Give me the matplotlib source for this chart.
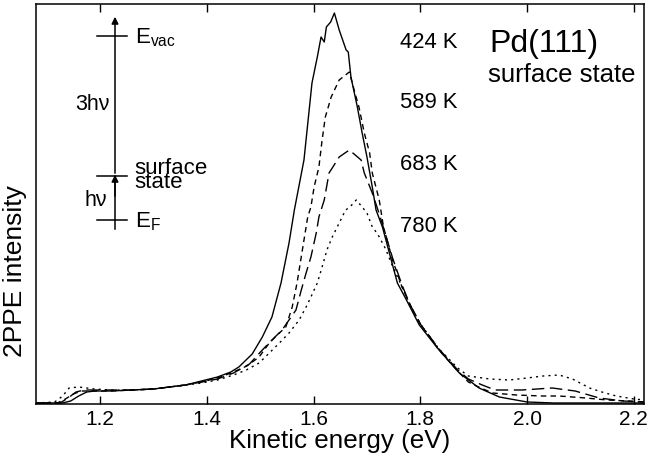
import matplotlib
matplotlib.use('Agg')
import matplotlib.pyplot as plt

plt.rcParams['font.family'] = ['Liberation Sans', 'DejaVu Sans']
plt.rcParams['mathtext.fontset'] = 'custom'
plt.rcParams['mathtext.rm'] = 'Liberation Sans'
plt.rcParams['mathtext.it'] = 'Liberation Sans'

# Spektren (Energie in eV, Intensitaet in willkuerlichen Einheiten)
e_424 = [1.08, 1.13, 1.145, 1.16, 1.175, 1.19, 1.22, 1.26, 1.30, 1.33, 1.36, 1.39, 1.42, 1.445,
         1.46, 1.485, 1.504, 1.522, 1.539, 1.554, 1.564, 1.582, 1.597, 1.607, 1.614, 1.620,
         1.624, 1.632, 1.639, 1.648, 1.661, 1.665, 1.670, 1.682, 1.691, 1.700, 1.710, 1.717,
         1.729, 1.742, 1.757, 1.774, 1.798, 1.835, 1.873, 1.91, 1.948, 2.0, 2.05, 2.22]
i_424 = [1, 1, 3, 8, 12, 13, 13, 14, 15, 17, 19, 23, 27, 32,
         37, 50, 67, 87, 121, 161, 194, 244, 321, 347, 367, 362,
         377, 382, 391, 374, 354, 352, 327, 297, 271, 247, 217, 194,
         177, 151, 121, 104, 79, 54, 31, 16, 7, 2, 1, 1]

e_589 = [1.08, 1.12, 1.135, 1.15, 1.165, 1.19, 1.22, 1.26, 1.30, 1.33, 1.36, 1.39, 1.42, 1.45,
         1.475, 1.498, 1.517, 1.536, 1.548, 1.560, 1.569, 1.579, 1.589, 1.595, 1.601, 1.610,
         1.616, 1.622, 1.633, 1.648, 1.667, 1.676, 1.685, 1.695, 1.705, 1.710, 1.723, 1.731,
         1.748, 1.765, 1.78, 1.80, 1.835, 1.87, 1.89, 1.905, 1.935, 1.98, 2.028, 2.06, 2.11,
         2.15, 2.19, 2.22]
i_589 = [1, 1, 5, 10, 13, 13, 13, 14, 15, 17, 19, 22, 26, 32,
         38, 47, 61, 71, 77, 97, 121, 154, 187, 197, 217, 237,
         264, 287, 307, 324, 332, 314, 297, 271, 251, 231, 204, 177,
         144, 118, 100, 80, 54, 33, 22, 18, 11, 9, 8, 8, 6,
         4, 3, 2]

e_683 = [1.08, 1.125, 1.14, 1.155, 1.17, 1.19, 1.22, 1.26, 1.30, 1.33, 1.36, 1.39, 1.42, 1.45,
         1.48, 1.504, 1.522, 1.541, 1.554, 1.567, 1.577, 1.586, 1.595, 1.605, 1.610, 1.620,
         1.629, 1.648, 1.667, 1.689, 1.695, 1.710, 1.720, 1.73, 1.748, 1.765, 1.78, 1.80,
         1.835, 1.87, 1.89, 1.916, 1.94, 1.99, 2.047, 2.09, 2.135, 2.18, 2.22]
i_683 = [1, 1, 6, 12, 14, 14, 14, 14, 15, 17, 19, 22, 25, 31,
         40, 54, 64, 74, 84, 94, 114, 131, 147, 171, 187, 204,
         231, 247, 254, 244, 231, 211, 195, 178, 146, 120, 100, 80,
         55, 34, 25, 19, 14, 14, 16, 13, 6, 3, 2]

e_780 = [1.08, 1.115, 1.13, 1.142, 1.16, 1.19, 1.22, 1.26, 1.30, 1.33, 1.36, 1.39, 1.42, 1.45,
         1.474, 1.498, 1.517, 1.536, 1.554, 1.573, 1.586, 1.595, 1.607, 1.616, 1.625, 1.635,
         1.648, 1.660, 1.668, 1.680, 1.691, 1.700, 1.710, 1.72, 1.735, 1.75, 1.765, 1.78,
         1.80, 1.835, 1.87, 1.89, 1.93, 1.967, 2.0, 2.03, 2.06, 2.085, 2.117, 2.14, 2.167,
         2.2, 2.22]
i_780 = [1, 2, 8, 16, 17, 15, 14, 14, 15, 17, 19, 21, 24, 29,
         34, 41, 51, 61, 71, 84, 97, 107, 121, 137, 154, 167,
         181, 194, 197, 204, 197, 191, 177, 170, 155, 135, 118, 100,
         80, 55, 36, 28, 25, 24, 26, 28, 29, 25, 16, 12, 8,
         5, 4]

temps = ['424 K', '589 K', '683 K', '780 K']
x_ticks = [1.2, 1.4, 1.6, 1.8, 2.0, 2.2]

fig = plt.figure(figsize=(6.48, 4.59), dpi=100)
ax = fig.add_axes([36/648, 1-404/459, 608/648, 400/459])

lw = 1.0
ax.plot(e_424, i_424, color='black', lw=lw, ls='-')
ax.plot(e_589, i_589, color='black', lw=lw, ls=(0, (4, 3)))
ax.plot(e_683, i_683, color='black', lw=lw, ls=(0, (9, 4)))
ax.plot(e_780, i_780, color='black', lw=lw, ls=(0, (1.5, 3)))

ax.set_xlim(1.08, 2.219)
ax.set_ylim(0, 400)
ax.set_xticks(x_ticks)
ax.set_xticklabels(['%.1f' % t for t in x_ticks])
ax.set_yticks([])
ax.tick_params(axis='x', direction='in', top=True, length=6, width=1, labelsize=15, pad=4)
for s in ax.spines.values():
    s.set_linewidth(1.1)
ax.set_xlabel('Kinetic energy (eV)', fontsize=18.7, labelpad=0)
fig.text(15/648, 1-271/459, '2PPE intensity', rotation=90, fontsize=19,
         ha='center', va='center')

# Temperaturen
for t, yy in zip(temps, [361, 301, 239, 177]):
    ax.text(1.762, yy, t, fontsize=15.8, va='center', ha='left')
ax.text(1.929, 360, 'Pd(111)', fontsize=23, va='center', ha='left')
ax.text(1.926, 329, 'surface state', fontsize=18.5, va='center', ha='left')

# Energieschema
xl = 1.228
ax.plot([xl, xl], [175, 228], color='black', lw=1.1)
ax.annotate('', xy=(xl, 232), xytext=(xl, 205),
            arrowprops=dict(arrowstyle='-|>', color='black', lw=1.1, mutation_scale=10))
ax.annotate('', xy=(xl, 390), xytext=(xl, 228),
            arrowprops=dict(arrowstyle='-|>', color='black', lw=1.1, mutation_scale=10))
for yy in [368, 228, 184]:
    ax.plot([1.194, 1.251], [yy, yy], color='black', lw=1.1)
ax.text(1.265, 366, r'E$_{\mathrm{vac}}$', fontsize=16, va='center', ha='left')
ax.text(1.265, 182, r'E$_{\mathrm{F}}$', fontsize=16, va='center', ha='left')
ax.text(1.265, 235, 'surface', fontsize=16, va='center', ha='left')
ax.text(1.265, 222, 'state', fontsize=16, va='center', ha='left')
ax.text(1.219, 299, '3hν', fontsize=15.5, va='center', ha='right')
ax.text(1.214, 203, 'hν', fontsize=15.5, va='center', ha='right')

fig.savefig('out.png', dpi=100)
